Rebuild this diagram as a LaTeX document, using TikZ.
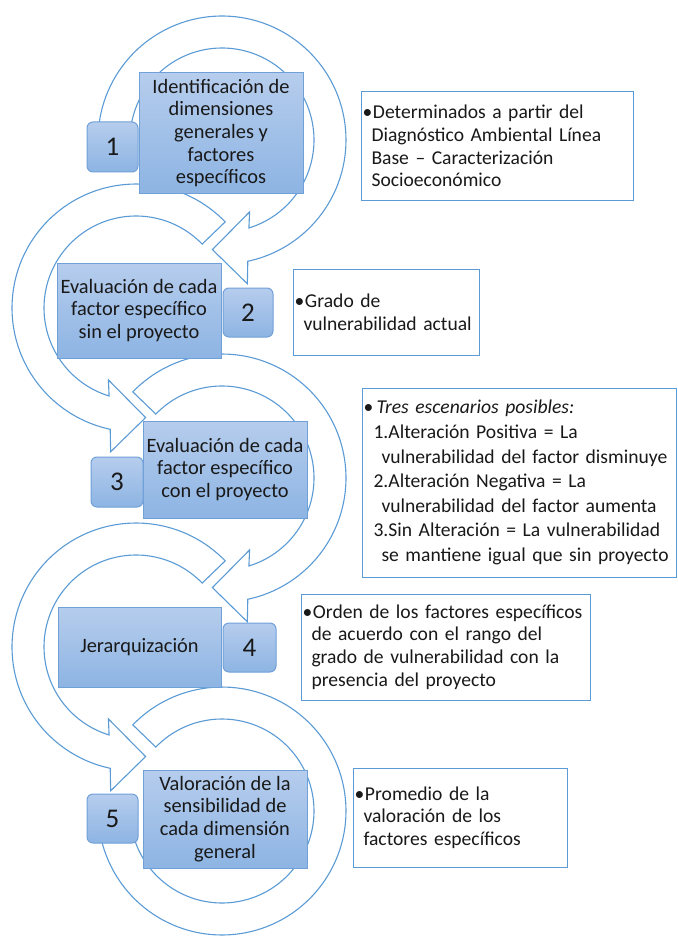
\documentclass[tikz,border=0pt]{standalone}
\usepackage{fontspec}
\setmainfont{Carlito}
\definecolor{ringblue}{RGB}{91,155,213}
\definecolor{boxtop}{RGB}{182,205,237}
\definecolor{boxbot}{RGB}{141,180,227}
\definecolor{boxline}{RGB}{112,160,216}
\definecolor{txt}{RGB}{25,25,25}
\newcommand\bulline[1]{\makebox[10.5pt][l]{•}\mbox{#1}}
\newcommand\hangline[2][9pt]{\hspace*{#1}\mbox{#2}}
\tikzset{
 ring/.style={draw=ringblue, line width=1.1pt, fill=white, line join=miter},
 stepbox/.style={draw=boxline, line width=1pt, top color=boxtop, bottom color=boxbot,
   align=center, text=txt, inner sep=1pt, font=\fontsize{20.4}{22.7}\selectfont},
 numbox/.style={stepbox, rounded corners=6pt, font=\fontsize{27}{30}\selectfont},
 notebox/.style={draw=ringblue, line width=1pt, fill=white, align=left, text=txt,
   inner xsep=1.5pt, inner ysep=0pt, font=\fontsize{19.6}{22.6}\selectfont},
}
\begin{document}
\begin{tikzpicture}[x=1pt,y=-1pt]
\useasboundingbox (0,0) rectangle (677,936);
% ring 5 (no head, end hidden under number 5)
\draw[ring, shift={(222,811)}]
  plot[domain=224:540,samples=120] ({124*cos(\x)},{124*sin(\x)})
  -- plot[domain=540:224,samples=120] ({92*cos(\x)},{92*sin(\x)}) -- cycle;
% ring 4 (counter-clockwise)
\draw[ring, shift={(136,647)}]
  plot[domain=-44:-258,samples=90] ({124*cos(\x)},{124*sin(\x)})
  -- (100:146) -- (85:110) -- (111:77)
  -- plot[domain=-253:-44,samples=90] ({92*cos(\x)},{92*sin(\x)}) -- cycle;
% ring 3 (clockwise)
\draw[ring, shift={(222,478)}]
  plot[domain=224:438,samples=90] ({124*cos(\x)},{124*sin(\x)})
  -- (80:146) -- (95:110) -- (69:77)
  -- plot[domain=433:224,samples=90] ({92*cos(\x)},{92*sin(\x)}) -- cycle;
% ring 2 (counter-clockwise)
\draw[ring, shift={(136,308)}]
  plot[domain=-44:-258,samples=90] ({124*cos(\x)},{124*sin(\x)})
  -- (100:146) -- (85:110) -- (111:77)
  -- plot[domain=-253:-44,samples=90] ({92*cos(\x)},{92*sin(\x)}) -- cycle;
% ring 1 (clockwise, start hidden under number 1)
\draw[ring, shift={(222,140)}]
  plot[domain=180:438,samples=100] ({124*cos(\x)},{124*sin(\x)})
  -- (80:146) -- (95:110) -- (69:77)
  -- plot[domain=433:180,samples=100] ({92*cos(\x)},{92*sin(\x)}) -- cycle;

% step boxes
\node[stepbox, minimum width=164pt, minimum height=120pt] (s1) at (221,133)
  {Identificación de\\dimensiones\\generales y\\factores\\específicos};
\node[numbox, minimum width=51pt, minimum height=50pt] (n1) at (112.5,147) {1};
\node[stepbox, minimum width=164pt, minimum height=95pt] (s2) at (139,310.5)
  {Evaluación de cada\\factor específico\\sin el proyecto};
\node[numbox, minimum width=50pt, minimum height=49pt] (n2) at (248,312.5) {2};
\node[stepbox, minimum width=164pt, minimum height=97pt] (s3) at (225,469.5)
  {Evaluación de cada\\factor específico\\con el proyecto};
\node[numbox, minimum width=52pt, minimum height=50pt] (n3) at (117,482) {3};
\node[stepbox, minimum width=163pt, minimum height=80pt] (s4) at (139.5,647)
  {Jerarquización};
\node[numbox, minimum width=53pt, minimum height=49pt] (n4) at (249.5,647.5) {4};
\node[stepbox, minimum width=164pt, minimum height=98pt] (s5) at (225,819)
  {Valoración de la\\sensibilidad de\\cada dimensión\\general};
\node[numbox, minimum width=51pt, minimum height=49pt] (n5) at (112.5,818.5) {5};

% note boxes
\node[notebox, text width=269pt, minimum height=108pt] (t1) at (497,146)
  {\bulline{Determinados a partir del}\\\hangline{Diagnóstico Ambiental Línea}\\
   \hangline{Base – Caracterización}\\\hangline{Socioeconómico}};
\node[notebox, text width=183pt, minimum height=86pt] (t2) at (386,312)
  {\bulline{Grado de}\\\hangline{vulnerabilidad actual}};
\node[notebox, text width=311pt, minimum height=189pt, font=\fontsize{19.6}{24.6}\selectfont] (t3) at (519,482.5)
  {\makebox[13pt][l]{•}\mbox{\textit{Tres escenarios posibles:}}\\
   \hangline[10pt]{1.Alteración Positiva = La}\\
   \hangline[18pt]{vulnerabilidad del factor disminuye}\\
   \hangline[10pt]{2.Alteración Negativa = La}\\
   \hangline[18pt]{vulnerabilidad del factor aumenta}\\
   \hangline[10pt]{3.Sin Alteración = La vulnerabilidad}\\
   \hangline[18pt]{se mantiene igual que sin proyecto}};
\node[notebox, text width=286pt, minimum height=106pt] (t4) at (445.5,647)
  {\bulline{Orden de los factores específicos}\\\hangline{de acuerdo con el rango del}\\
   \hangline{grado de vulnerabilidad con la}\\\hangline{presencia del proyecto}};
\node[notebox, text width=211pt, minimum height=99pt] (t5) at (460,817.5)
  {\bulline{Promedio de la}\\\hangline{valoración de los}\\\hangline{factores específicos}};
\end{tikzpicture}
\end{document}
